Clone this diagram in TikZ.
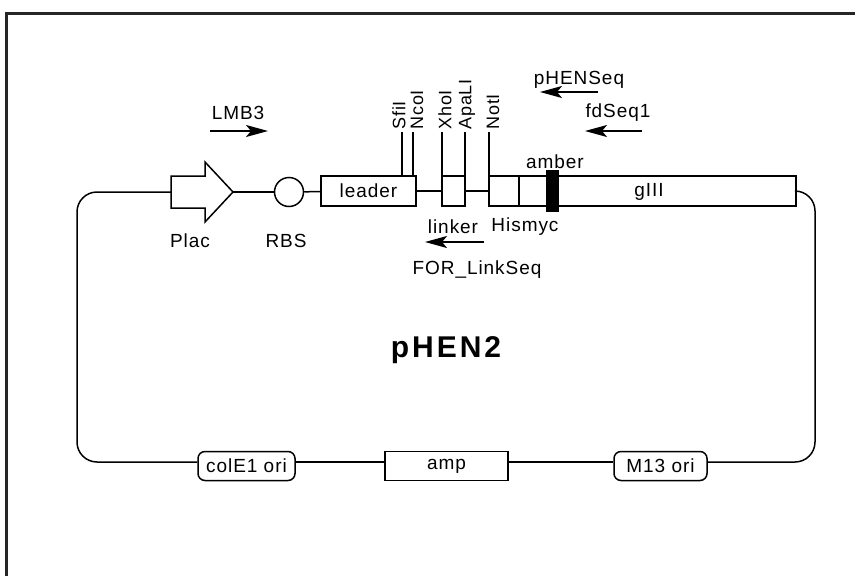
\documentclass[tikz,border=0pt]{standalone}
\usepackage{fontspec}
\setmainfont[LetterSpace=5]{Liberation Sans}
\usetikzlibrary{arrows.meta}

\begin{document}
\begin{tikzpicture}[x=1pt, y=-1pt, line width=1.5pt,
	every node/.style={font=\fontsize{19}{21}\selectfont},
	part/.style={draw, minimum height=30pt, inner sep=0pt, outer sep=0pt, anchor=west, fill=white},
	ori/.style={draw, rounded corners=7pt, minimum height=29pt, inner sep=0pt, fill=white},
	site/.style={rotate=90, anchor=west, inner sep=1.5pt, font=\fontsize{18}{20}\selectfont},
	primer/.style={-{Stealth[length=22pt, width=12pt, inset=5pt]}}]
	\useasboundingbox (0,0) rectangle (855,576);
	\draw[line width=2.5pt, black!85] (6.5,576) -- (6.5,13.5) -- (855,13.5);
	% promoter arrow
	\draw (171,176) -- (205,176) -- (205,162) -- (233,192) -- (205,222) -- (205,208) -- (171,208) -- cycle;
	\coordinate (plac tail) at (171,192);
	\coordinate (plac tip) at (233,192);
	\node (plac) at (190,241) {Plac};
	\node[draw, circle, minimum size=29pt, inner sep=0pt] (rbs) at (289,192) {};
	\node (rbs label) at (286,241) {RBS};
	% insert region
	\node[part, minimum width=95pt] (leader) at (321,191) {leader};
	\node[part, minimum width=23pt] (linker) at (442,191) {};
	\node[part, minimum width=30pt] (his) at (489,191) {};
	\node[part, minimum width=28pt] (myc) at (his.east) {};
	\node[part, minimum width=11pt, minimum height=41pt, fill=black] (amber) at (myc.east) {};
	\node[part, minimum width=238pt] (gIII) at (amber.east) {};
	\node (gIII label) at (649,192) {gIII};
	\node (amber label) at (555,162) {amber};
	\node (linker label) at (453,227) {linker};
	\node (hismyc) at (525,227) {Hismyc};
	\node (for) at (477,270) {FOR\_LinkSeq};
	\draw (plac tip) -- (rbs);
	\draw (rbs) -- (leader);
	\draw (leader) -- (linker);
	\draw (linker) -- (his);
	% restriction sites
	\foreach \x/\d/\n in {402/-3/SfiI, 413/4/NcoI, 442/3/XhoI, 465/2/ApaLI, 489/4/NotI} {
		\draw (\x,176) -- (\x,132);
		\node[site] at (\x+\d,132) {\n};
	}
	% primers
	\node (lmb3) at (238,113) {LMB3};
	\draw[primer] (210,131) -- (268,131);
	\node (phenseq) at (579,80) {pHENSeq};
	\draw[primer] (598,92) -- (540,92);
	\node (fdseq1) at (618,113) {fdSeq1};
	\draw[primer] (642,131) -- (585,131);
	\draw[primer] (484,242) -- (425,242);
	% backbone
	\node[ori, minimum width=97pt] (colE1) at (246.5,466) {colE1 ori};
	\node[draw, minimum width=123pt, minimum height=29pt, inner sep=0pt] (amp) at (446.5,466) {amp};
	\node[ori, minimum width=93pt] (M13) at (660.5,466) {M13 ori};
	\coordinate (bot) at (0,462);
	\draw[rounded corners=20pt] (plac tail) -- (77,192) -- (77,462) -- (colE1.west |- bot);
	\draw (colE1.east |- bot) -- (amp.west |- bot);
	\draw (amp.east |- bot) -- (M13.west |- bot);
	\draw[rounded corners=20pt] (M13.east |- bot) -- (815,462) -- (815,191) -- (gIII.east);
	\node[font=\bfseries\fontsize{30}{32}\selectfont\addfontfeature{LetterSpace=10}] (title) at (446,350) {pHEN2};
\end{tikzpicture}
\end{document}
